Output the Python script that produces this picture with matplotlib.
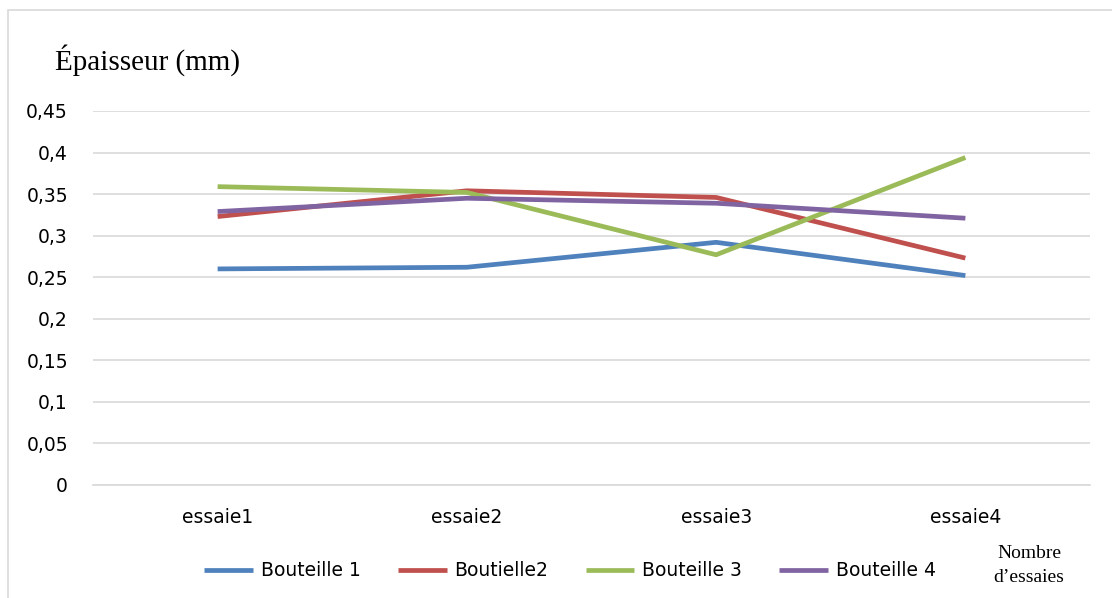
import numpy as np
import matplotlib
matplotlib.use('Agg')
import matplotlib.pyplot as plt
from matplotlib.patches import Rectangle

categories = ['essaie1', 'essaie2', 'essaie3', 'essaie4']
bouteille1 = [0.260, 0.262, 0.292, 0.252]
bouteille2 = [0.323, 0.354, 0.346, 0.273]
bouteille3 = [0.359, 0.352, 0.277, 0.394]
bouteille4 = [0.329, 0.345, 0.339, 0.321]
series_names = ['Bouteille 1', 'Boutielle2', 'Bouteille 3', 'Bouteille 4']
colors = ['#4F81BD', '#C0504D', '#9BBB59', '#8064A2']
yticks = np.arange(0, 0.451, 0.05)
ytick_labels = ['0', '0,05', '0,1', '0,15', '0,2', '0,25', '0,3', '0,35', '0,4', '0,45']

W, H = 1112, 598
fig = plt.figure(figsize=(W / 100, H / 100), dpi=100)
# light frame of the chart area (runs off the right and bottom edges)
fig.patches.append(Rectangle((8 / W, -0.2), 1.2, (H - 10) / H + 0.2, transform=fig.transFigure,
                             fill=False, edgecolor='#D9D9D9', linewidth=1.2))

ax = fig.add_axes([93 / W, (H - 485) / H, (1090 - 93) / W, (485 - 111) / H])
x = np.arange(len(categories))
for vals, name, c in zip([bouteille1, bouteille2, bouteille3, bouteille4], series_names, colors):
    ax.plot(x, vals, color=c, linewidth=3.4, label=name, solid_capstyle='butt')

ax.set_xlim(-0.5, 3.5)
ax.set_ylim(0, 0.45)
ax.set_yticks(yticks)
ax.set_yticklabels(ytick_labels)
ax.set_xticks(x)
ax.set_xticklabels(categories)
ax.yaxis.grid(True, color='#D9D9D9', linewidth=1.2)
ax.set_axisbelow(True)
for s in ['top', 'right', 'left']:
    ax.spines[s].set_visible(False)
ax.spines['bottom'].set_color('#D9D9D9')
ax.spines['bottom'].set_linewidth(1.2)
ax.tick_params(axis='both', length=0, labelsize=13.5, colors='black')
ax.tick_params(axis='y', pad=18)
ax.tick_params(axis='x', pad=16.5)

fig.text(55 / W, 1 - 60 / H, 'Épaisseur (mm)', family='Liberation Serif', fontsize=21,
         va='center', ha='left')
fig.text(1029 / W, 1 - 553 / H, 'Nombre', family='Liberation Serif', fontsize=14,
         va='center', ha='center')
fig.text(1029 / W, 1 - 578 / H, 'd\u2019essaies', family='Liberation Serif', fontsize=14,
         va='center', ha='center')

fig.legend(loc='center', bbox_to_anchor=(570 / W, 1 - 571 / H), ncol=4, frameon=False,
           fontsize=13.5, handlelength=2.6, columnspacing=2.0, handletextpad=0.4)

fig.savefig('out.png', dpi=100)
